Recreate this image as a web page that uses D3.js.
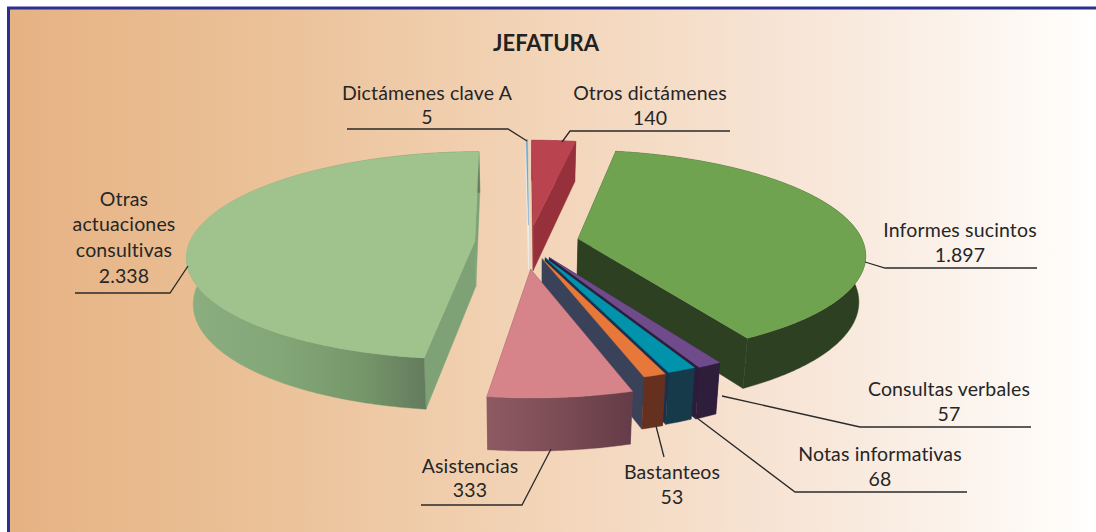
<!DOCTYPE html>
<html><head><meta charset="utf-8">
<style>html,body{margin:0;padding:0;background:#fff}svg{display:block}</style>
<script src="https://cdn.jsdelivr.net/npm/d3@7"></script>
</head><body><svg id="c" width="1096" height="532"></svg>
<script>
const title = "JEFATURA";
const categories = ["Dictámenes clave A","Otros dictámenes","Informes sucintos","Consultas verbales","Notas informativas","Bastanteos","Asistencias","Otras actuaciones consultivas"];
const values = [5,140,1897,57,68,53,333,2338];
const topColors = ["#6fa5c9","#b9434f","#70a350","#6f4b8c","#0093ab","#e8783a","#d6838a","#a0c38d"];
const wallColors = ["#e9eff0","#96303a","#2e4022","#2f1d3c","#163a4a","#66301f","url(#wallPink)","url(#wallGreen)"];
const cutColors  = ["#e9eff0","#96303a","#2e4022","#2a1c3b","#1f2f49","#3a4259","#7a4a54","url(#cutGreen)"];
const explode = [0.17,0.16,0.18,0.17,0.165,0.17,0.26,0.18];
const nudgeX = [0.01,0.012,0.006,0,0,0,-0.006,0];
const drawOrder = [0,1,7,2,3,4,5,6];
const labelLayout = [
 {x:427,y:[100,124],line:[[347,129],[508,129],[527,141]]},
 {x:650,y:[100,125],line:[[562,142],[570,131],[730,131]]},
 {x:960,y:[237,262],line:[[865,262],[885,268],[1037,268]]},
 {x:949,y:[396,421],line:[[722,396],[860,427],[1031,427]]},
 {x:880,y:[461,486],line:[[697,418],[795,492],[967,492]]},
 {x:672,y:[479,504],line:[[656,426],[664,457]]},
 {x:470,y:[473,497],line:[[551,449],[522,505],[421,505]]},
 {x:124,y:[206,231,257,283],line:[[188,266],[170,293],[75,293]]}
];
const otrasLines = ["Otras","actuaciones","consultivas"];

const W=1096,H=532,cx=526,cy=242,R=285,RQ=102,P=0.14,DEPTH=45.5,SHRINK=0.98;
const svg=d3.select("#c");
const defs=svg.append("defs");
function grad(id,stops,x1,y1,x2,y2){
  const g=defs.append("linearGradient").attr("id",id).attr("gradientUnits","userSpaceOnUse")
    .attr("x1",x1).attr("y1",y1).attr("x2",x2).attr("y2",y2);
  stops.forEach(s=>g.append("stop").attr("offset",s[0]).attr("stop-color",s[1]));
}
grad("bg",[[0,"#e6b283"],[0.25,"#ebc299"],[0.5,"#f3d5b9"],[0.75,"#f8e7da"],[0.93,"#fdf8f3"],[1,"#ffffff"]],8,0,1096,0);
grad("wallPink",[[0,"#8d5a62"],[0.5,"#7b4c54"],[1,"#633b47"]],487,0,635,0);
grad("wallGreen",[[0,"#8aae80"],[0.4,"#83a677"],[0.75,"#75966a"],[1,"#647d5e"]],190,0,422,0);
grad("cutGreen",[[0,"#7ea276"],[1,"#7ea276"]],420,0,484,0);

svg.append("rect").attr("width",W).attr("height",H).attr("fill","#fff");
svg.append("rect").attr("x",8.5).attr("y",8).attr("width",W).attr("height",H).attr("fill","url(#bg)").attr("stroke","#2b2f92").attr("stroke-width",3);

svg.append("text").attr("x",546).attr("y",51).attr("text-anchor","middle")
  .attr("font-family","Lato").attr("font-weight",700).attr("font-size",22).attr("fill","#222").text(title);

// 3D projection
const proj=(x,y)=>{const s=1/(1-P*y);return [cx+R*x*s,cy+RQ*y*s,s];};
const projB=(x,y)=>{const p=proj(x,y);return [cx+(p[0]-cx)*SHRINK,p[1]+DEPTH*Math.pow(p[2],0.8)];};

const pieGen=d3.pie().sort(null).startAngle(-0.5*Math.PI/180).endAngle((360-0.5)*Math.PI/180);
const arcs=pieGen(values);
const line=d3.line();

const chart=svg.append("g");
drawOrder.forEach(i=>{
  const a=arcs[i],mid=(a.startAngle+a.endAngle)/2;
  const ox=explode[i]*Math.sin(mid)+nudgeX[i],oy=-explode[i]*Math.cos(mid);
  const N=Math.max(2,Math.ceil((a.endAngle-a.startAngle)/0.01));
  const ang=d3.range(N+1).map(k=>a.startAngle+(a.endAngle-a.startAngle)*k/N);
  const pts=ang.map(t=>[ox+Math.sin(t),oy-Math.cos(t)]);
  const top=pts.map(p=>proj(p[0],p[1]).slice(0,2));
  const bot=pts.map(p=>projB(p[0],p[1]));
  const at=proj(ox,oy).slice(0,2),ab=projB(ox,oy);
  const g=chart.append("g").attr("class","slice");
  g.append("path").attr("d",line([at,top[0],bot[0],ab])+"Z").attr("fill",cutColors[i]).attr("stroke",cutColors[i]).attr("stroke-width",0.4);
  g.append("path").attr("d",line([at,top[N],bot[N],ab])+"Z").attr("fill",cutColors[i]).attr("stroke",cutColors[i]).attr("stroke-width",0.4);
  g.append("path").attr("d",line(top.concat(bot.slice().reverse()))+"Z").attr("fill",wallColors[i]).attr("stroke",wallColors[i]).attr("stroke-width",0.4);
  g.append("path").attr("d",line([at].concat(top))+"Z").attr("fill",topColors[i]).attr("stroke",topColors[i]).attr("stroke-width",0.4);
});

// leaders & labels
const fmt=d3.formatLocale({decimal:",",thousands:".",grouping:[3],currency:["","€"]}).format(",d");
const lab=svg.append("g").attr("font-family","Lato").attr("font-size",19.5).attr("letter-spacing",0.15).attr("fill","#262626").attr("text-anchor","middle");
labelLayout.forEach((l,i)=>{
  lab.append("path").attr("d",line(l.line)).attr("fill","none").attr("stroke","#2a2a2a").attr("stroke-width",1.3);
  const rows=(i===7?otrasLines:[categories[i]]).concat([fmt(values[i])]);
  rows.forEach((t,k)=>lab.append("text").attr("x",l.x).attr("y",l.y[k]).text(t));
});
</script></body></html>
